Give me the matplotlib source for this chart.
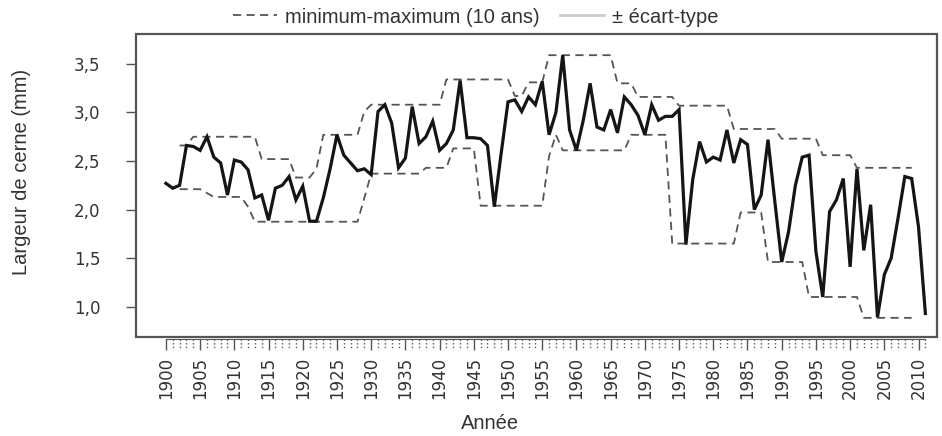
import numpy as np
import matplotlib.pyplot as plt
import matplotlib.transforms as mtransforms
from matplotlib.lines import Line2D
from matplotlib.patches import Rectangle

# --- Largeur de cerne annuelle (mm), 1900-2011 ---
annees = np.arange(1900, 2012)
largeur = [
    2.27, 2.22, 2.25, 2.66, 2.65, 2.61, 2.75, 2.54, 2.48, 2.15,   # 1900
    2.51, 2.49, 2.41, 2.12, 2.15, 1.89, 2.22, 2.25, 2.34, 2.10,   # 1910
    2.24, 1.88, 1.88, 2.12, 2.42, 2.77, 2.56, 2.48, 2.40, 2.42,   # 1920
    2.36, 3.01, 3.08, 2.89, 2.43, 2.53, 3.06, 2.68, 2.75, 2.91,   # 1930
    2.61, 2.68, 2.82, 3.33, 2.74, 2.74, 2.73, 2.66, 2.03, 2.58,   # 1940
    3.11, 3.13, 3.01, 3.16, 3.08, 3.32, 2.77, 3.00, 3.59, 2.82,   # 1950
    2.61, 2.92, 3.30, 2.85, 2.82, 3.03, 2.79, 3.16, 3.08, 2.97,   # 1960
    2.77, 3.08, 2.92, 2.96, 2.96, 3.03, 1.64, 2.31, 2.70, 2.49,   # 1970
    2.54, 2.51, 2.82, 2.48, 2.72, 2.67, 2.00, 2.15, 2.72, 2.08,   # 1980
    1.46, 1.77, 2.25, 2.54, 2.56, 1.57, 1.10, 1.98, 2.10, 2.32,   # 1990
    1.41, 2.42, 1.58, 2.05, 0.89, 1.33, 1.50, 1.91, 2.34, 2.32,   # 2000
    1.82, 0.93,                                                   # 2010
]

# --- minimum / maximum sur 10 ans, 1902-2009 ---
annees_mm = np.arange(1902, 2010)
maximum = [
    2.66, 2.66, 2.75, 2.75, 2.75, 2.75, 2.75, 2.75,
    2.75, 2.75, 2.75, 2.75, 2.52, 2.52, 2.52, 2.52, 2.52, 2.33,
    2.33, 2.33, 2.42, 2.77, 2.77, 2.77, 2.77, 2.77, 2.77, 3.01,
    3.08, 3.08, 3.08, 3.08, 3.08, 3.08, 3.08, 3.08, 3.08, 3.08,
    3.08, 3.34, 3.34, 3.34, 3.34, 3.34, 3.34, 3.34, 3.34, 3.34,
    3.34, 3.17, 3.17, 3.31, 3.31, 3.31, 3.59, 3.59, 3.59, 3.59,
    3.59, 3.59, 3.59, 3.59, 3.59, 3.59, 3.30, 3.30, 3.30, 3.16,
    3.16, 3.16, 3.16, 3.16, 3.16, 3.07, 3.07, 3.07, 3.07, 3.07,
    3.07, 3.07, 3.07, 2.83, 2.83, 2.83, 2.83, 2.83, 2.83, 2.83,
    2.73, 2.73, 2.73, 2.73, 2.73, 2.73, 2.56, 2.56, 2.56, 2.56,
    2.56, 2.43, 2.43, 2.43, 2.43, 2.43, 2.43, 2.43, 2.43, 2.43,
]
minimum = [
    2.21, 2.21, 2.21, 2.21, 2.17, 2.13, 2.13, 2.13,
    2.13, 2.13, 2.03, 1.875, 1.875, 1.875, 1.875, 1.875, 1.875, 1.875,
    1.875, 1.875, 1.875, 1.875, 1.875, 1.875, 1.875, 1.875, 1.875, 2.12,
    2.37, 2.37, 2.37, 2.37, 2.37, 2.37, 2.37, 2.37, 2.43, 2.43,
    2.43, 2.43, 2.63, 2.63, 2.63, 2.63, 2.04, 2.04, 2.04, 2.04,
    2.04, 2.04, 2.04, 2.04, 2.04, 2.04, 2.55, 2.77, 2.61, 2.61,
    2.61, 2.61, 2.61, 2.61, 2.61, 2.61, 2.61, 2.61, 2.77, 2.77,
    2.77, 2.77, 2.77, 2.77, 1.65, 1.65, 1.65, 1.65, 1.65, 1.65,
    1.65, 1.65, 1.65, 1.65, 1.97, 1.97, 1.97, 1.97, 1.46, 1.46,
    1.46, 1.46, 1.46, 1.46, 1.10, 1.10, 1.10, 1.10, 1.10, 1.10,
    1.10, 1.10, 0.885, 0.885, 0.885, 0.885, 0.885, 0.885, 0.885, 0.885,
]

yticks = [1.0, 1.5, 2.0, 2.5, 3.0, 3.5]
ytick_labels = ["1,0", "1,5", "2,0", "2,5", "3,0", "3,5"]
xticks = np.arange(1900, 2011, 5)
xminor = [a for a in range(1900, 2012) if a % 5 != 0]

label_font = ["Liberation Sans", "DejaVu Sans"]
gris = "#555555"
tiret = (0, (4.5, 3.0))

fig = plt.figure(figsize=(9.42, 4.36), dpi=100)
ax = fig.add_axes([0.1449, 0.2271, 0.8498, 0.6949])

ax.plot(annees_mm, maximum, color=gris, lw=1.3, linestyle=tiret)
ax.plot(annees_mm, minimum, color=gris, lw=1.3, linestyle=tiret)
ax.plot(annees, largeur, color="#151515", lw=2.3, solid_joinstyle="miter")

ax.set_xlim(1895.7, 2012.7)
ax.set_ylim(0.688, 3.808)

# cadre autour de la zone de tracé
for side in ["left", "right", "top"]:
    ax.spines[side].set_visible(False)
ax.add_patch(Rectangle((0, 0), 1, 1, transform=ax.transAxes, fill=False,
                       edgecolor=gris, lw=1.6, clip_on=False, zorder=5))

# axe x décalé, comme dans R
ax.spines["bottom"].set_position(("outward", 1.5))
ax.spines["bottom"].set_bounds(1900, 2011)
ax.spines["bottom"].set_color(gris)
ax.spines["bottom"].set_linewidth(0.8)
ax.set_xticks(xticks)
ax.set_xticklabels([str(a) for a in xticks], rotation=90)
ax.tick_params(axis="x", length=8, width=1.0, color=gris, pad=5,
               labelsize=12, labelcolor="#333333")

# petites graduations pointillées pour chaque année
trans = mtransforms.blended_transform_factory(ax.transData, ax.transAxes)
ax.vlines(xminor, -0.008, -0.038, transform=trans, colors=gris,
          linestyles=(0, (1.0, 1.6)), lw=1.0, clip_on=False)

ax.set_yticks(yticks)
ax.set_yticklabels(ytick_labels)
ax.tick_params(axis="y", length=7, width=1.0, color=gris, pad=19,
               labelsize=12, labelcolor="#333333")

fig.text(0.023, 0.605, "Largeur de cerne (mm)", rotation=90, ha="center",
         va="center", fontsize=14.5, family=label_font, color="#333333")
fig.text(0.52, 0.028, "Année", ha="center", va="center", fontsize=14.5,
         family=label_font, color="#333333")

handles = [Line2D([], [], color=gris, lw=1.3, linestyle=tiret),
           Line2D([], [], color="#cccccc", lw=2.0)]
fig.legend(handles, ["minimum-maximum (10 ans)", "± écart-type"],
           loc="center", bbox_to_anchor=(0.505, 0.961), ncol=2, frameon=False,
           prop={"family": label_font, "size": 14.5}, handlelength=2.2,
           handletextpad=0.4, columnspacing=1.0, labelcolor="#333333")

fig.savefig("out.png", dpi=100)
